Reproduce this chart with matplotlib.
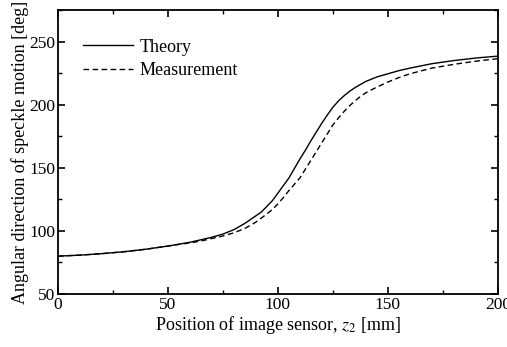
import matplotlib.pyplot as plt
from matplotlib.ticker import MultipleLocator

# values
z2_theory = [0, 10, 20, 30, 40, 50, 55, 60, 65, 70, 75, 80, 85, 90, 92.5, 95,
             97.5, 100, 102.5, 105, 107.5, 110, 112.5, 115, 117.5, 120, 122.5,
             125, 127.5, 130, 132.5, 135, 140, 145, 150, 155, 160, 170, 180,
             190, 200]
theory = [80, 80.8, 82, 83.5, 85.5, 88, 89.5, 91, 93, 95, 97.5, 101, 106, 112,
          115, 119.5, 124, 130, 136, 142, 149.5, 157, 164, 171.5, 178.5, 185.5,
          192, 198, 203, 207, 210.5, 213.5, 218.5, 222, 224.5, 227, 229, 232.5,
          235, 237, 238.5]
z2_meas = [0, 10, 20, 30, 40, 50, 55, 60, 65, 70, 75, 80, 85, 90, 95, 97.5,
           100, 102.5, 105, 107.5, 110, 112.5, 115, 117.5, 120, 122.5, 125,
           127.5, 130, 132.5, 135, 137.5, 140, 145, 150, 155, 160, 170, 180,
           190, 200]
measured = [80, 80.8, 82, 83.5, 85.5, 88, 89.3, 90.5, 92, 94, 96, 98.5, 102,
            107, 113.5, 117, 121.5, 126.5, 132, 137, 142, 149, 156, 163, 170,
            177, 184, 189.5, 194.5, 199, 203, 206.5, 209.5, 214, 218, 221.5,
            224.5, 229, 232, 234.5, 236.5]

plt.rcParams["font.family"] = ["Liberation Serif", "DejaVu Serif"]
plt.rcParams["mathtext.fontset"] = "stix"

fig = plt.figure(figsize=(5.07, 3.47), dpi=100)
ax = fig.add_axes([0.1144, 0.1527, 0.8676, 0.8183])

ax.plot(z2_theory, theory, color="black", lw=1.0, label="Theory")
ax.plot(z2_meas, measured, color="black", lw=1.0, ls=(0, (4, 2.5)),
        label="Measurement")

ax.set_xlim(0, 200)
ax.set_ylim(50, 275)
ax.set_xticks([0, 50, 100, 150, 200])
ax.set_yticks([50, 100, 150, 200, 250])
ax.xaxis.set_minor_locator(MultipleLocator(25))
ax.yaxis.set_minor_locator(MultipleLocator(25))
ax.tick_params(which="both", direction="in", top=True, right=True,
               labelsize=12.5, pad=2)
ax.tick_params(which="major", length=5, width=1.2)
ax.tick_params(which="minor", length=3, width=1.0)
for s in ax.spines.values():
    s.set_linewidth(1.3)

ax.set_xlabel(r"Position of image sensor, $z_2$ [mm]", fontsize=13, labelpad=1)
ax.set_ylabel("Angular direction of speckle motion [deg]", fontsize=13,
              labelpad=0)
ax.legend(loc="upper left", bbox_to_anchor=(0.04, 0.925), frameon=False,
          fontsize=13, handlelength=2.8, handletextpad=0.35,
          borderaxespad=0.0, labelspacing=0.35)

fig.savefig("out.png", dpi=100)
